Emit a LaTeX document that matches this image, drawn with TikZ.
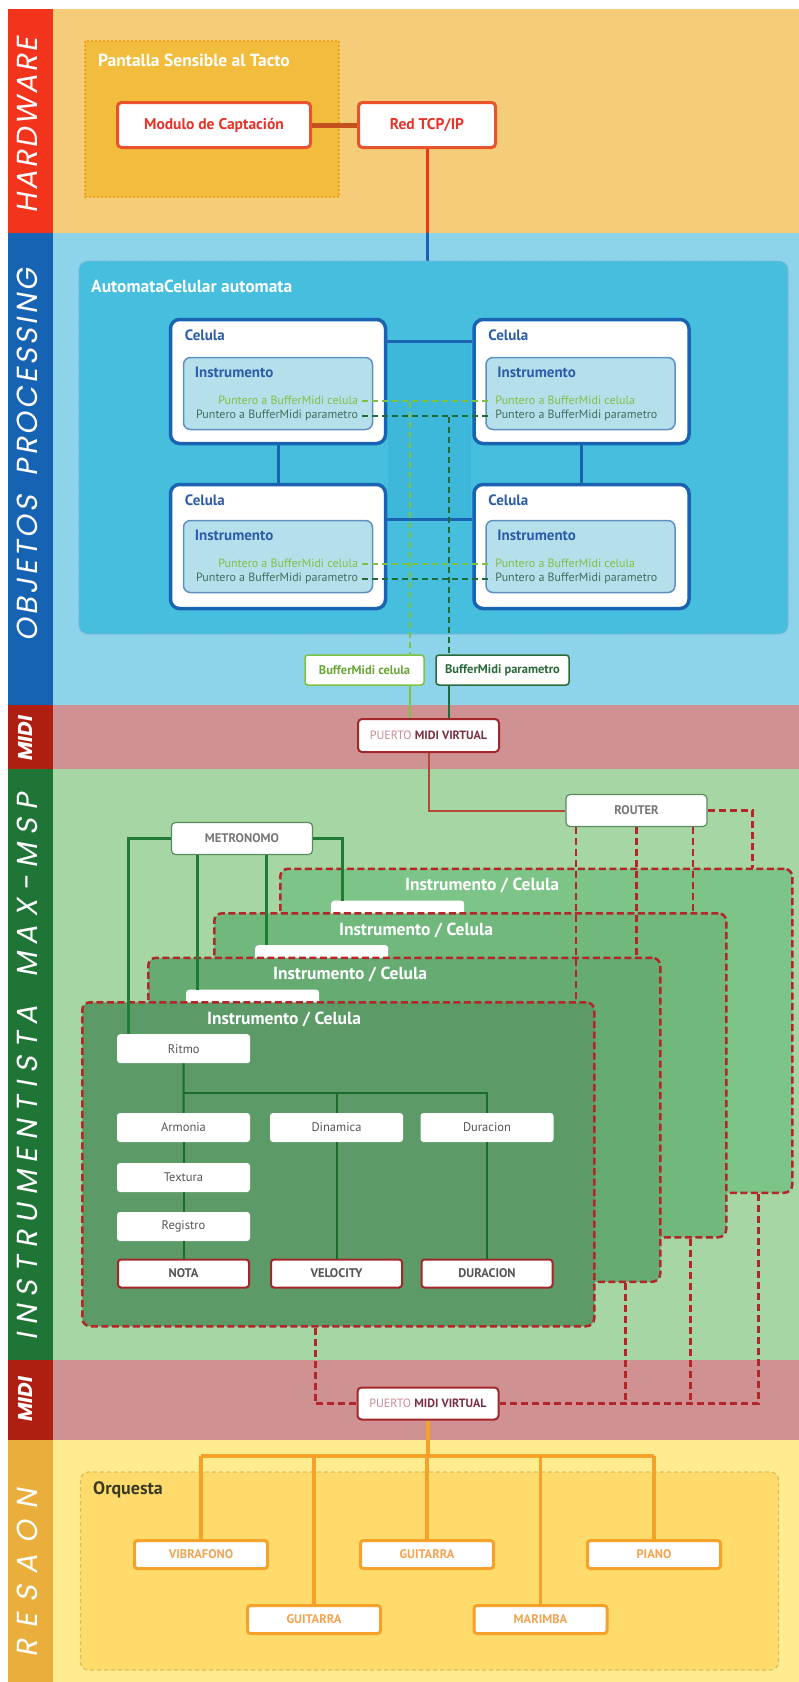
\documentclass[tikz,border=0pt]{standalone}
\usepackage{fontspec}
\setmainfont{PT Sans}
\newfontfamily\bandfont[FakeSlant=0.18]{Poppins}
\usetikzlibrary{positioning,calc}

\newcommand\sz[1]{\fontsize{#1}{#1}\selectfont}

\definecolor{hwband}{HTML}{F5CD78}
\definecolor{hwstripe}{HTML}{F2341C}
\definecolor{pband}{HTML}{8DD4EA}
\definecolor{pstripe}{HTML}{1763B3}
\definecolor{mband}{HTML}{CF9191}
\definecolor{mstripe}{HTML}{AE1F12}
\definecolor{gband}{HTML}{A6D6A3}
\definecolor{gstripe}{HTML}{1F7536}
\definecolor{yband}{HTML}{FFEC8E}
\definecolor{ystripe}{HTML}{E9AE3C}
\definecolor{padfill}{HTML}{F2BD3C}
\definecolor{padline}{HTML}{F0A01E}
\definecolor{hwred}{HTML}{E8532B}
\definecolor{hwtext}{HTML}{E5332A}
\definecolor{hwlink}{HTML}{C4501E}
\definecolor{redline}{HTML}{EE3524}
\definecolor{autfill}{HTML}{45BFDD}
\definecolor{autline}{HTML}{7DB6D6}
\definecolor{autdark}{HTML}{3DB8DB}
\definecolor{celblue}{HTML}{1A62B2}
\definecolor{celtext}{HTML}{2B5DA8}
\definecolor{infill}{HTML}{B6DFEC}
\definecolor{inline}{HTML}{5F90C2}
\definecolor{ptrlight}{HTML}{7DC242}
\definecolor{ptrdark}{HTML}{1F6B3A}
\definecolor{ptrdarktext}{HTML}{3F6F5A}
\definecolor{bufdark}{HTML}{2A6A3A}
\definecolor{portred}{HTML}{A3262A}
\definecolor{portlight}{HTML}{C98A92}
\definecolor{portdark}{HTML}{7A3040}
\definecolor{routeline}{HTML}{B44A32}
\definecolor{smallline}{HTML}{5A8A60}
\definecolor{smalltext}{HTML}{777777}
\definecolor{metline}{HTML}{217A35}
\definecolor{innerline}{HTML}{1B6B2B}
\definecolor{dashred}{HTML}{B3262A}
\definecolor{panelA}{HTML}{7CC488}
\definecolor{panelB}{HTML}{71B87D}
\definecolor{panelC}{HTML}{66AB72}
\definecolor{panelD}{HTML}{5C9A68}
\definecolor{boxtext}{HTML}{555555}
\definecolor{orqfill}{HTML}{FEDB6A}
\definecolor{orqline}{HTML}{D6BE62}
\definecolor{orqorange}{HTML}{F6A12A}
\definecolor{orqtext}{HTML}{F2A452}
\definecolor{orqdark}{HTML}{3A3A2A}

\tikzset{
  bandtitle/.style={rotate=90, text=white, font=\bandfont\sz{29}, inner sep=0pt},
  hwbox/.style={draw=hwred, line width=3pt, fill=white, rounded corners=4pt,
    minimum height=45pt, text=hwtext, font=\bfseries\sz{15.5}},
  celbox/.style={draw=celblue, line width=3.5pt, fill=white, rounded corners=9pt,
    minimum width=215pt, minimum height=124pt},
  inbox/.style={draw=inline, line width=1.5pt, fill=infill, rounded corners=7pt,
    minimum width=189pt, minimum height=72pt},
  bluetext/.style={text=celtext, font=\bfseries\sz{15}, inner sep=0pt, anchor=west},
  ptr/.style={font=\sz{12}, inner sep=0pt},
  ptrlink/.style={dash pattern=on 6pt off 4pt, line width=2.5pt},
  bufbox/.style={fill=white, line width=1.5pt, rounded corners=3pt,
    minimum height=30pt, font=\bfseries\sz{12.5}},
  portbox/.style={fill=white, draw=portred, line width=2pt, rounded corners=4pt,
    minimum width=141pt, minimum height=33pt, font=\sz{12}},
  ctrlbox/.style={fill=white, draw=smallline, line width=1.2pt, rounded corners=4pt,
    minimum width=141pt, minimum height=32pt, text=smalltext, font=\bfseries\sz{12.5}},
  panel/.style={draw=dashred, line width=2.5pt, dash pattern=on 7pt off 3.5pt,
    rounded corners=8pt, minimum width=512pt, minimum height=324pt, inner sep=0pt},
  wbox/.style={fill=white, rounded corners=3pt, minimum width=133pt, minimum height=29pt,
    text=boxtext, font=\sz{12.5}, inner sep=0pt},
  outbox/.style={wbox, draw=portred, line width=2pt, minimum width=131pt,
    minimum height=28pt, font=\bfseries\sz{12.5}},
  orqbox/.style={fill=white, draw=orqorange, line width=3pt, rounded corners=3pt,
    minimum width=133pt, minimum height=28pt, text=orqtext, font=\bfseries\sz{12.5}},
  rdash/.style={draw=dashred, line width=2.5pt, dash pattern=on 7pt off 4pt},
}

\begin{document}
\begin{tikzpicture}[x=1pt,y=-1pt]
  \useasboundingbox (0,0) rectangle (799,1682);
  \fill[white] (0,0) rectangle (799,1682);

  % bands and side stripes
  \foreach \ya/\yb/\bc/\sc in {9/233/hwband/hwstripe, 233/705/pband/pstripe,
      705/769/mband/mstripe, 769/1360/gband/gstripe, 1360/1440/mband/mstripe,
      1440/1682/yband/ystripe} {
    \fill[\bc] (53,\ya) rectangle (799,\yb);
    \fill[\sc] (8,\ya) rectangle (53,\yb);
  }
  \node[bandtitle] (tHW) at (27,125.5)
    {\makebox[175pt][s]{H\hfill A\hfill R\hfill D\hfill W\hfill A\hfill R\hfill E}};
  \node[bandtitle] (tOP) at (27,455)
    {\makebox[373pt][s]{O\hfill B\hfill J\hfill E\hfill T\hfill O\hfill S\hfill\hspace{9pt}
      P\hfill R\hfill O\hfill C\hfill E\hfill S\hfill S\hfill I\hfill N\hfill G}};
  \node[bandtitle, font=\bandfont\bfseries\sz{20}] (tM1) at (25,739) {MIDI};
  \node[bandtitle] (tIM) at (27,1067)
    {\makebox[547pt][s]{I\hfill N\hfill S\hfill T\hfill R\hfill U\hfill M\hfill E\hfill
      N\hfill T\hfill I\hfill S\hfill T\hfill A\hfill\hspace{12pt} M\hfill A\hfill X\hfill
      -\hfill M\hfill S\hfill P}};
  \node[bandtitle, font=\bandfont\bfseries\sz{20}] (tM2) at (25,1400) {MIDI};
  \node[bandtitle] (tRE) at (27,1573)
    {\makebox[168pt][s]{R\hfill E\hfill S\hfill A\hfill O\hfill N}};

  % hardware
  \draw[padline, fill=padfill, line width=1.5pt, dash pattern=on 2pt off 2pt]
    (85,41) rectangle (339,197);
  \node[anchor=west, text=white, font=\bfseries\sz{17.5}, inner sep=0pt] (pad)
    at (98,60) {Pantalla Sensible al Tacto};
  \node[hwbox, minimum width=193pt] (mod) at (214,125) {Modulo de Captación};
  \node[hwbox, minimum width=137pt] (tcp) at (427,125) {Red TCP/IP};
  \draw[hwlink, line width=5pt] (mod) -- (tcp);
  \coordinate (hwb) at (427,233);
  \coordinate (autj) at (427,341);
  \coordinate (autb) at (427,519);
  \draw[redline, line width=3pt] (tcp) -- (hwb);
  \draw[celblue, line width=3pt] (hwb) -- (autj);

  % automata
  \draw[autline, fill=autfill, line width=1.2pt, dash pattern=on 3pt off 2pt,
    rounded corners=9pt] (79,261) rectangle (788,634);
  \node[anchor=west, text=white, font=\bfseries\sz{17.5}, inner sep=0pt] (aut)
    at (91,286) {AutomataCelular automata};
  \fill[autdark] (388,341) rectangle (471,519);

  \node[celbox] (c1) at (278,381.5) {};
  \node[celbox] (c2) at (581.5,381.5) {};
  \node[celbox] (c3) at (278,546.5) {};
  \node[celbox] (c4) at (581.5,546.5) {};
  \begin{scope}[celblue, line width=3pt]
    \draw (c1) -- (c3);
    \draw (c2) -- (c4);
    \draw (c1.east |- autj) -- (c2.west |- autj);
    \draw (c3.east |- autb) -- (c4.west |- autb);
  \end{scope}

  \node[inbox] (i1) at (278,393.5) {};
  \node[inbox] (i2) at (580.5,393.5) {};
  \node[inbox] (i3) at (278,556.5) {};
  \node[inbox] (i4) at (580.5,556.5) {};
  \foreach \c in {c1,c2,c3,c4}
    \node[bluetext] at ($(\c.north west)+(16,17)$) {Celula};
  \foreach \i in {i1,i2,i3,i4}
    \node[bluetext] at ($(\i.north west)+(12,16)$) {Instrumento};

  \foreach \l/\r in {i1/i2,i3/i4} {
    \node[ptr, anchor=east, text=ptrlight] (\l c) at ($(\l.north east)+(-15,44)$)
      {Puntero a BufferMidi celula};
    \node[ptr, anchor=east, text=ptrdarktext] (\l p) at ($(\l.north east)+(-15,59)$)
      {Puntero a BufferMidi parametro};
    \node[ptr, anchor=west, text=ptrlight] (\r c) at ($(\r.north west)+(10,44)$)
      {Puntero a BufferMidi celula};
    \node[ptr, anchor=west, text=ptrdarktext] (\r p) at ($(\r.north west)+(10,59)$)
      {Puntero a BufferMidi parametro};
    \draw[ptrlink, ptrlight] ([xshift=4pt]\l c.east) -- ([xshift=-3pt]\r c.west);
    \draw[ptrlink, ptrdark] ([xshift=4pt]\l p.east) -- ([xshift=-3pt]\r p.west);
  }

  \node[bufbox, draw=ptrlight, text=ptrlight!85!black, minimum width=119pt] (bmc)
    at (364.5,670) {BufferMidi celula};
  \node[bufbox, draw=bufdark, text=bufdark, minimum width=133pt] (bmp)
    at (502.5,670) {BufferMidi parametro};
  \node[portbox] (pm1) at (428.5,735.5)
    {\textcolor{portlight}{PUERTO} \textcolor{portdark}{\bfseries MIDI VIRTUAL}};

  \coordinate (gv) at (410,401.5);
  \coordinate (dv) at (449,416.5);
  \draw[ptrlink, ptrlight] (gv) -- (gv |- bmc.north);
  \draw[ptrlink, ptrdark] (dv) -- (dv |- bmp.north);
  \draw[ptrlight, line width=2pt] (gv |- bmc.south) -- (gv |- pm1.north);
  \draw[ptrdark, line width=2pt] (dv |- bmp.south) -- (dv |- pm1.north);

  % max-msp
  \node[ctrlbox] (router) at (636.5,810.5) {ROUTER};
  \node[ctrlbox] (metro) at (242,838.5) {METRONOMO};
  \draw[routeline, line width=2pt] (pm1) |- (router);

  \foreach \k/\fc/\rx/\rt in {3/panelA/52/{},2/panelB/42/{},1/panelC/39/{},0/panelD/36/Ritmo} {
    \pgfmathsetmacro\px{81+66*\k}
    \pgfmathsetmacro\py{1001-44.5*\k}
    \node[panel, fill=\fc, anchor=north west] (ib\k) at (\px,\py) {};
    \node[text=white, font=\bfseries\sz{17.5}, inner sep=0pt]
      at ($(ib\k.north west)+(203,18)$) {Instrumento / Celula};
    \node[wbox, anchor=north west] (rit\k) at ($(ib\k.north west)+(\rx,33)$) {\rt};
  }

  \begin{scope}[every node/.style={wbox}]
    \node (arm) at (183.5,1127.5) {Armonia};
    \node (din) at (336.5,1127.5) {Dinamica};
    \node (dur) at (487,1127.5) {Duracion};
    \node (tex) at (183.5,1177.5) {Textura};
    \node (reg) at (183.5,1226.5) {Registro};
  \end{scope}
  \begin{scope}[every node/.style={outbox}]
    \node (nota) at (183.5,1273.5) {NOTA};
    \node (vel) at (336.5,1273.5) {VELOCITY};
    \node (durb) at (487,1273.5) {DURACION};
  \end{scope}

  \coordinate (fork) at (183.5,1093);
  \begin{scope}[innerline, line width=2pt]
    \draw (rit0) -- (arm);
    \draw (fork) -| (din);
    \draw (fork) -| (dur);
    \draw (arm) -- (tex);
    \draw (tex) -- (reg);
    \draw (reg) -- (nota);
    \draw (din) -- (vel);
    \draw (dur) -- (durb);
  \end{scope}

  \foreach \k in {0,...,3}
    \coordinate (mt\k) at ([xshift=-55pt]rit\k.north);
  \begin{scope}[metline, line width=2.5pt]
    \draw (metro.west) -| (mt0);
    \draw (mt1 |- metro.south) -- (mt1);
    \draw (mt2 |- metro.south) -- (mt2);
    \draw (metro.east) -| (mt3);
  \end{scope}

  \node[portbox, minimum height=32pt] (pm2) at (428,1403.5)
    {\textcolor{portlight}{PUERTO} \textcolor{portdark}{\bfseries MIDI VIRTUAL}};

  \coordinate (ra) at ([xshift=-60.5pt]router.south);
  \coordinate (rc) at ([xshift=56.5pt]router.south);
  \coordinate (rd) at ([xshift=216pt]ib3.north);
  \coordinate (ba) at ([xshift=-23pt]ib0.south);
  \coordinate (bb) at ([xshift=221pt]ib1.south);
  \coordinate (bc) at ([xshift=220pt]ib2.south);
  \coordinate (bd) at ([xshift=222pt]ib3.south);
  \draw[rdash] (ra) -- (ra |- ib0.north);
  \draw[rdash] (router.south) -- (router.south |- ib1.north);
  \draw[rdash] (rc) -- (rc |- ib2.north);
  \draw[rdash] (router.east) -| (rd);
  \draw[rdash] (ba) |- (pm2.west);
  \draw[rdash] (bd) |- (pm2.east);
  \draw[rdash] (bb) -- (bb |- pm2.east);
  \draw[rdash] (bc) -- (bc |- pm2.east);

  % orquesta
  \draw[orqline, fill=orqfill, line width=1.2pt, dash pattern=on 4pt off 3pt,
    rounded corners=8pt] (80.5,1472) rectangle (778.5,1670);
  \node[anchor=west, font=\bfseries\sz{18}, text=orqdark, inner sep=0pt] (orq)
    at (93,1490) {Orquesta};
  \begin{scope}[every node/.style={orqbox}]
    \node (vib) at (201,1554.5) {VIBRAFONO};
    \node (gui1) at (427,1554.5) {GUITARRA};
    \node (pia) at (654,1554.5) {PIANO};
    \node (gui2) at (314,1619.5) {GUITARRA};
    \node (mar) at (540.5,1619.5) {MARIMBA};
  \end{scope}
  \coordinate (orqj) at (428,1456);
  \begin{scope}[orqorange, line width=3.5pt]
    \draw (pm2) -- (orqj);
    \draw (vib.north |- orqj) -- (pia.north |- orqj);
    \foreach \n in {vib,gui2,gui1,mar,pia}
      \draw (\n.north |- orqj) -- (\n.north);
  \end{scope}
\end{tikzpicture}
\end{document}
